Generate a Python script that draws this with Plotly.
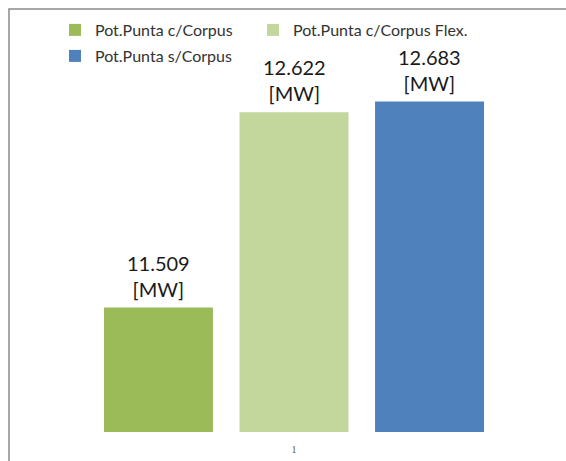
import plotly.graph_objects as go

# Peak power per scenario
series = ["Pot.Punta c/Corpus", "Pot.Punta c/Corpus Flex.", "Pot.Punta s/Corpus"]
values = [11.509, 12.622, 12.683]
colors = ["#9BBB59", "#C3D69B", "#4F81BD"]
unit = "[MW]"
category = "1"

# one legend box per entry so the two-row layout can be placed freely
legend_ids = ["legend", "legend2", "legend3"]
legend_px = [(55, 30), (253, 30), (55, 56)]

positions = list(range(len(series)))
center = positions[len(positions) // 2]

W, H = 566, 461
ML, MB = 22, 29
PW, PH = W - ML, H - MB


def px_x(px):
    return (px - ML) / PW


def px_y(py):
    return (H - MB - py) / PH


label_font = dict(family="Lato, Open Sans, sans-serif", size=20, color="#1a1a1a")
legend_font = dict(family="Lato, Open Sans, sans-serif", size=16, color="#333333")

fig = go.Figure()
for pos, name, val, col, lg in zip(positions, series, values, colors, legend_ids):
    fig.add_trace(go.Bar(
        x=[pos], y=[val], name=name, width=0.804, legend=lg,
        marker=dict(color=col, line=dict(width=0)),
        hoverinfo="skip",
    ))
    fig.add_annotation(
        x=pos, y=val, xref="x", yref="y",
        text=f"{val:.3f}<br>{unit}", showarrow=False,
        yanchor="bottom", yshift=5,
        font=label_font,
    )

# outer chart frame (runs off the right and bottom edges)
fig.add_shape(type="rect", xref="paper", yref="paper",
              x0=px_x(9), x1=px_x(W + 20), y0=px_y(H + 20), y1=px_y(9),
              line=dict(color="#8a8a8a", width=1.5), layer="below")

legends = {}
for lg, (lx, ly) in zip(legend_ids, legend_px):
    legends[lg] = dict(
        orientation="h", xanchor="left", yanchor="middle",
        x=px_x(lx), y=px_y(ly),
        font=legend_font, itemwidth=30,
        bgcolor="rgba(0,0,0,0)",
    )

fig.update_layout(
    width=W, height=H,
    margin=dict(l=ML, r=0, t=0, b=MB),
    paper_bgcolor="white", plot_bgcolor="white",
    showlegend=True,
    **legends,
    xaxis=dict(
        range=[-1.007, 3.007], tickvals=[center], ticktext=[category],
        showgrid=False, zeroline=False, showline=False, ticks="",
        ticklabelstandoff=10,
        tickfont=dict(family="Liberation Serif, serif", size=10, color="#595959"),
        fixedrange=True,
    ),
    yaxis=dict(range=[10.8, 10.8 + PH / 175.5], visible=False,
               showgrid=False, fixedrange=True),
)

fig.write_html("out.html")
